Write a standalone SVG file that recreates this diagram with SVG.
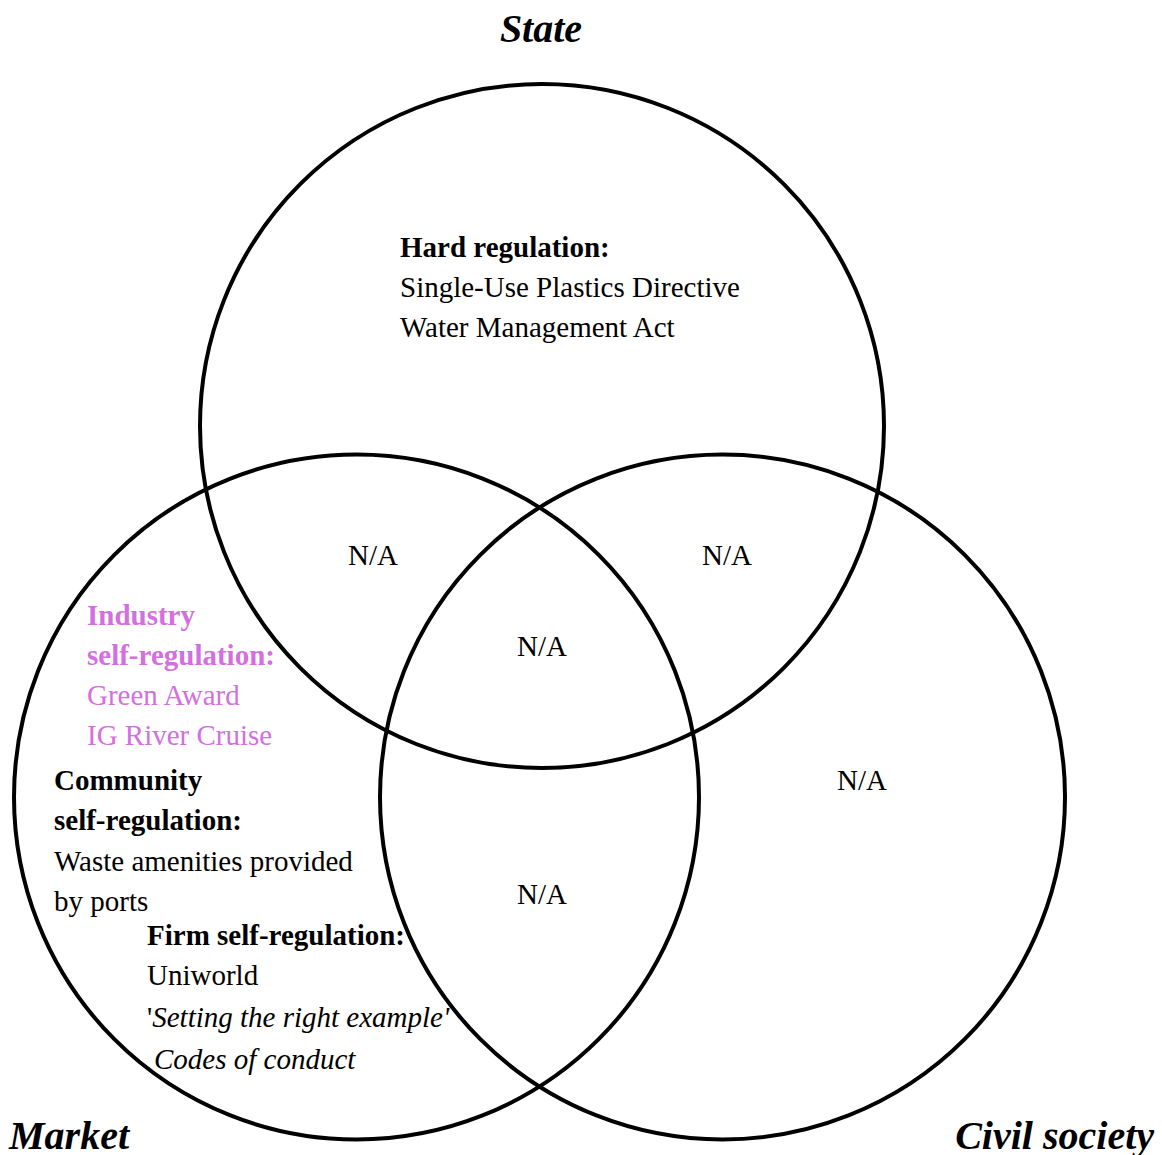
<svg xmlns="http://www.w3.org/2000/svg" width="1162" height="1155" viewBox="0 0 1162 1155">
  <style>
    text { font-family: "Liberation Serif", "Times New Roman", serif; font-size: 29px; fill: #000; }
    .b { font-weight: bold; }
    .i { font-style: italic; }
    .title { font-size: 40px; font-weight: bold; font-style: italic; }
    .ind { fill: #d46fe2; }
    .set { fill: none; stroke: #000; stroke-width: 4; }
  </style>
  <rect width="1162" height="1155" fill="#fff"/>

  <!-- the three overlapping sets -->
  <g id="sets">
    <circle id="state-circle" class="set" cx="542" cy="426" r="342"/>
    <circle id="market-circle" class="set" cx="356.5" cy="797" r="342.5"/>
    <circle id="civil-circle" class="set" cx="722.5" cy="797" r="342.5"/>
  </g>

  <!-- set titles -->
  <g id="titles">
    <text class="title" x="541" y="42" text-anchor="middle">State</text>
    <text class="title" x="9" y="1149">Market</text>
    <text class="title" x="1154" y="1149" text-anchor="end">Civil society</text>
  </g>

  <g id="state-only">
    <text class="b" x="400" y="257">Hard regulation:</text>
    <text x="400" y="297">Single-Use Plastics Directive</text>
    <text x="400" y="337">Water Management Act</text>
  </g>

  <g id="overlaps">
    <text x="373" y="565" text-anchor="middle">N/A</text>
    <text x="727" y="565" text-anchor="middle">N/A</text>
    <text x="542" y="656" text-anchor="middle">N/A</text>
    <text x="862" y="790" text-anchor="middle">N/A</text>
    <text x="542" y="904" text-anchor="middle">N/A</text>
  </g>

  <g id="industry">
    <text class="b ind" x="87" y="625">Industry</text>
    <text class="b ind" x="87" y="665">self-regulation:</text>
    <text class="ind" x="87" y="705">Green Award</text>
    <text class="ind" x="87" y="745">IG River Cruise</text>
  </g>

  <g id="community">
    <text class="b" x="54" y="790">Community</text>
    <text class="b" x="54" y="830">self-regulation:</text>
    <text x="54" y="871">Waste amenities provided</text>
    <text x="54" y="911">by ports</text>
  </g>

  <g id="firm">
    <text class="b" x="147" y="945">Firm self-regulation:</text>
    <text x="147" y="985">Uniworld</text>
    <text x="147" y="1027">'<tspan class="i">Setting the right example'</tspan></text>
    <text class="i" x="154" y="1069">Codes of conduct</text>
  </g>
</svg>
